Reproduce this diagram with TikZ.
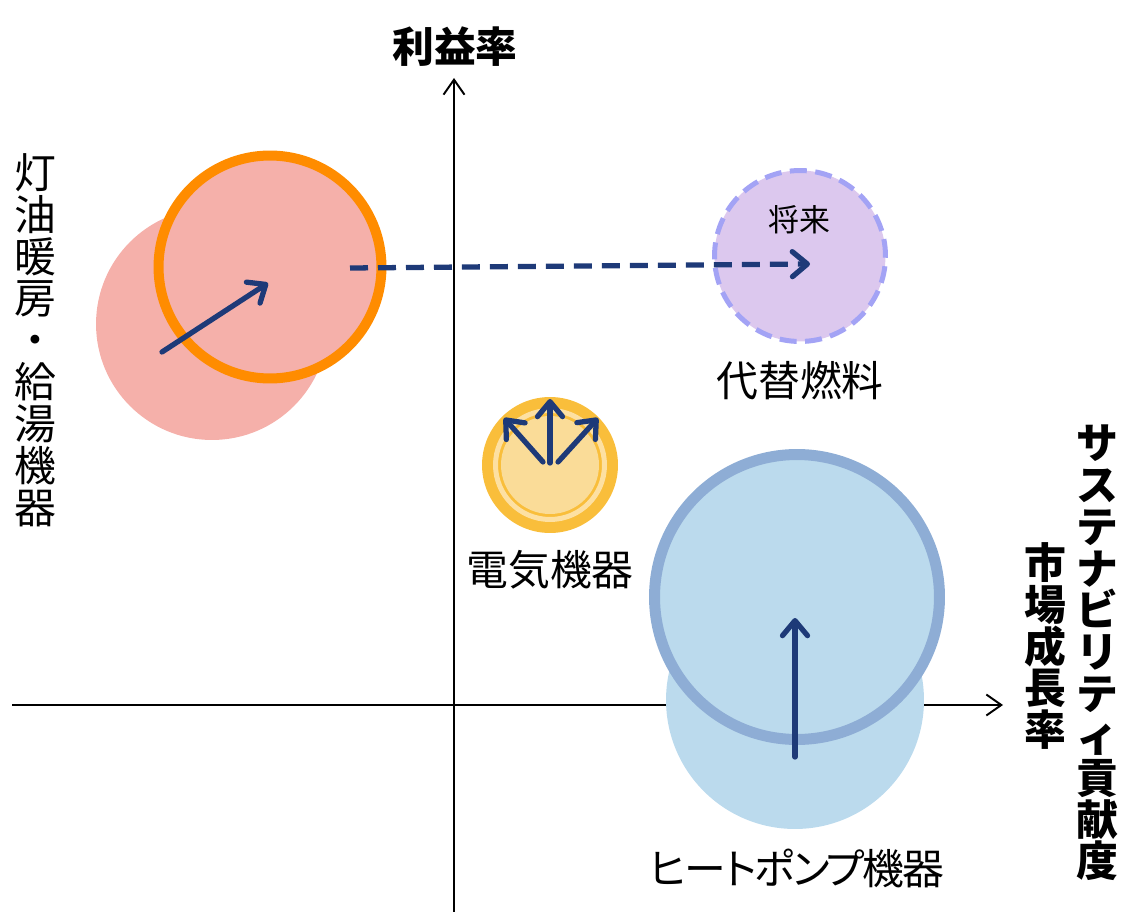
\documentclass[tikz,border=0pt]{standalone}
\usepackage{fontspec}
\setmainfont{Noto Sans CJK JP}
\usetikzlibrary{arrows.meta}
\usetikzlibrary{positioning}

\definecolor{navy}{HTML}{1E3A78}
\definecolor{oilfill}{HTML}{F5B0AA}
\definecolor{oilring}{HTML}{FF8C00}
\definecolor{futurefill}{HTML}{DCC8EE}
\definecolor{futurering}{HTML}{A3A3F5}
\definecolor{elecouter}{HTML}{F9BE3B}
\definecolor{eleclight}{HTML}{FDE0A2}
\definecolor{elecinner}{HTML}{FADC98}
\definecolor{hpfill}{HTML}{BBDAED}
\definecolor{hpring}{HTML}{8EADD5}

\begin{document}
\begin{tikzpicture}[
	x=0.02cm,
	y=-0.02cm]

\tikzstyle{bubble}=[circle, inner sep=0pt, outer sep=0pt]
\tikzstyle{axis}=[line width=1.1pt, -{Straight Barb[length=0.3cm,width=0.42cm]}]
\tikzstyle{trend}=[line width=3pt, navy, line cap=round,
	-{Straight Barb[length=0.3cm,width=0.5cm,round]}]
\tikzstyle{itemtext}=[font=\fontsize{23.8}{23.8}\selectfont, inner sep=0pt]
\tikzstyle{vtext}=[itemtext, align=center]

\useasboundingbox (0,0) rectangle (1122,912);

% Draw axes
\coordinate (ybottom) at (454,912);
\coordinate (ytop) at (454,78);
\coordinate (xleft) at (12,705);
\coordinate (xright) at (1003,705);
\draw[axis] (ybottom) -- (ytop);
\draw[axis] (xleft) -- (xright);

% axis labels
\node (yname) at (455,47) [itemtext, font=\bfseries\fontsize{23.8}{23.8}\selectfont] {利益率};
\node (xname) at (1097,653) [vtext, font=\bfseries\fontsize{23.8}{23.8}\selectfont]
	{サ\\ス\\テ\\ナ\\ビ\\リ\\テ\\ィ\\貢\\献\\度};
\node (xname2) at (1045,646) [vtext, font=\bfseries\fontsize{23.8}{23.8}\selectfont]
	{市\\場\\成\\長\\率};

% kerosene heating
\node (oilPast) at (212,324) [bubble, fill=oilfill, minimum size=4.64cm] {};
\node (oilNow) at (270,267) [bubble, fill=oilfill, draw=oilring,
	line width=0.2cm, minimum size=4.46cm] {};
\node (oilLabel) at (35,340) [vtext] {灯\\油\\暖\\房\\・\\給\\湯\\機\\器};
\coordinate (oilFrom) at (162,352);
\coordinate (oilTo) at (268,283);
\draw[trend] (oilFrom) -- (oilTo);

% future fuel
\node (future) at (800,256) [bubble, fill=futurefill, draw=futurering,
	line width=0.1cm, dash pattern=on 0.34cm off 0.17cm, minimum size=3.42cm] {};
\node (futureTag) at (799,220) [itemtext, font=\fontsize{17.6}{17.6}\selectfont] {将来};
\node (futureLabel) at (800,381) [itemtext] {代替燃料};
\coordinate (shiftFrom) at (350,268);
\coordinate (shiftTo) at (810,264);
\draw[trend, dash pattern=on 0.36cm off 0.2cm, line cap=butt] (shiftFrom) -- (shiftTo);

% electric
\node (elec) at (550,465) [bubble, fill=elecouter, minimum size=2.72cm] {};
\node (elecRing) at (elec) [bubble, draw=eleclight, line width=0.1cm, minimum size=2.18cm] {};
\node (elecCore) at (elec) [bubble, fill=elecinner, minimum size=1.96cm] {};
\node (elecLabel) at (550,570) [itemtext] {電気機器};
\coordinate (elecFromL) at (543,462);
\coordinate (elecFromM) at (550,463);
\coordinate (elecFromR) at (558,462);
\coordinate (elecToL) at (504,418);
\coordinate (elecToM) at (550,399);
\coordinate (elecToR) at (598,418);
\foreach \s in {L,M,R}
	\draw[trend] (elecFrom\s) -- (elecTo\s);

% heat pump
\node (hpPast) at (795,700) [bubble, fill=hpfill, minimum size=5.16cm] {};
\node (hpNow) at (797,597) [bubble, fill=hpfill, draw=hpring,
	line width=0.22cm, minimum size=5.7cm] {};
\node (hpLabel) at (797,868) [itemtext,
	font=\addfontfeature{RawFeature=+palt,LetterSpace=-5}\fontsize{23.8}{23.8}\selectfont] {ヒートポンプ機器};
\coordinate (hpFrom) at (795,757);
\coordinate (hpTo) at (795,618);
\draw[trend] (hpFrom) -- (hpTo);

\end{tikzpicture}
\end{document}
